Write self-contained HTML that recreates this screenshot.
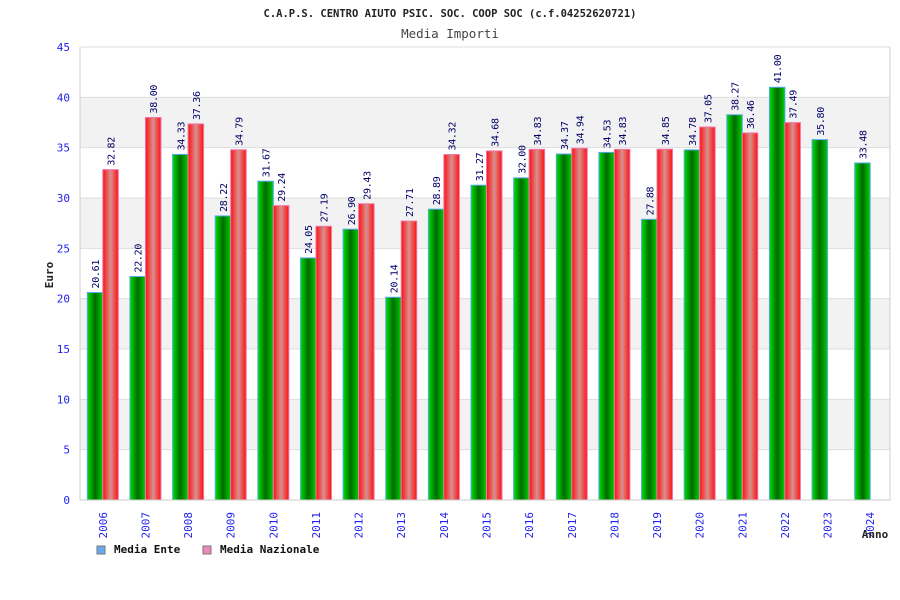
<!DOCTYPE html>
<html><head><meta charset="utf-8"><style>
body{margin:0;background:#fff;font-family:"DejaVu Sans Mono","Liberation Mono",monospace;}
svg{display:block}
</style></head><body>
<svg width="900" height="600" xmlns="http://www.w3.org/2000/svg">
<defs>
<linearGradient id="gG" x1="0" x2="1" y1="0" y2="0">
<stop offset="0" stop-color="#00e000"/><stop offset="0.5" stop-color="#006a00"/><stop offset="1" stop-color="#00d000"/></linearGradient>
<linearGradient id="gR" x1="0" x2="1" y1="0" y2="0">
<stop offset="0" stop-color="#ff1010"/><stop offset="0.5" stop-color="#d89090"/><stop offset="1" stop-color="#ff1010"/></linearGradient>
</defs>
<text x="450" y="17" text-anchor="middle" font-size="10.5" font-weight="bold" fill="#222">C.A.P.S. CENTRO AIUTO PSIC. SOC. COOP SOC (c.f.04252620721)</text>
<text x="450" y="38" text-anchor="middle" font-size="12.5" fill="#444">Media Importi</text>
<g id="grid"></g>
<g id="bars"></g>
<g id="axes"></g>
<text transform="translate(53,275) rotate(-90)" text-anchor="middle" font-size="11" font-weight="bold" fill="#222">Euro</text>
<text x="875" y="538" text-anchor="middle" font-size="11" font-weight="bold" fill="#222">Anno</text>
<g>
<rect x="97" y="546" width="8" height="8" fill="#66aaee" stroke="#777"/>
<text x="114" y="553" font-size="11" font-weight="bold" fill="#111">Media Ente</text>
<rect x="203" y="546" width="8" height="8" fill="#ee88bb" stroke="#777"/>
<text x="220" y="553" font-size="11" font-weight="bold" fill="#111">Media Nazionale</text>
</g>
</svg>
<script>
const years=["2006","2007","2008","2009","2010","2011","2012","2013","2014","2015","2016","2017","2018","2019","2020","2021","2022","2023","2024"];
const ente=[20.61,22.20,34.33,28.22,31.67,24.05,26.90,20.14,28.89,31.27,32.00,34.37,34.53,27.88,34.78,38.27,41.00,35.80,33.48];
const nazionale=[32.82,38.00,37.36,34.79,29.24,27.19,29.43,27.71,34.32,34.68,34.83,34.94,34.83,34.85,37.05,36.46,37.49,null,null];
const yTicks=[0,5,10,15,20,25,30,35,40,45];
const NS="http://www.w3.org/2000/svg";
const L=80,R=890,T=47,B=500,YMAX=45;
const y=v=>B-(v/YMAX)*(B-T);
const step=(R-L)/years.length;
const x=i=>L+step*i;
function mk(tag,attrs,parent){const e=document.createElementNS(NS,tag);for(const k in attrs)e.setAttribute(k,attrs[k]);parent.appendChild(e);return e;}
const grid=document.getElementById('grid'),bars=document.getElementById('bars'),axes=document.getElementById('axes');
for(let k=0;k<yTicks.length-1;k++){
  if(k%2===1){const r=mk('rect',{x:L,y:y(yTicks[k+1]),width:R-L,height:y(yTicks[k])-y(yTicks[k+1]),fill:'#f2f2f2'},grid);
  
  }
}
yTicks.forEach(t=>{
  const ln=mk('line',{x1:L,x2:R,y1:y(t),y2:y(t),stroke:'#ddd'},grid);
  
  
  const tx=mk('text',{x:70,y:y(t)+4,'text-anchor':'end','font-size':'11',fill:'#2222ee'},axes);
  tx.textContent=t;
  
  
});
const ax=mk('path',{d:`M${L} ${T}V${B}H${R}V${T}`,fill:'none',stroke:'#ccc'},axes);


const bw=15.5;
years.forEach((yr,i)=>{
  const c=x(i)+step/2+1.5;
  const tl=mk('text',{transform:`translate(${c+4},${B+12}) rotate(-90)`,'text-anchor':'end','font-size':'11',fill:'#2222ee'},axes);
  tl.textContent=yr;
  
  
  [[ente[i],c-bw,'url(#gG)','#55aaee','bar-ente'],[nazionale[i],c,'url(#gR)','#ee77aa','bar-nazionale']].forEach(([v,bx,f,s,n])=>{
    if(v==null)return;
    const r=mk('rect',{x:bx,y:y(v),width:bw,height:B-y(v),fill:f,stroke:s,'stroke-width':'1'},bars);
    
    
    const lt=mk('text',{transform:`translate(${bx+bw/2+4},${y(v)-4}) rotate(-90)`,'font-size':'10','letter-spacing':'-0.3',fill:'#000066'},bars);
    lt.textContent=v.toFixed(2);
    
    
  });
});
</script>
</body></html>
